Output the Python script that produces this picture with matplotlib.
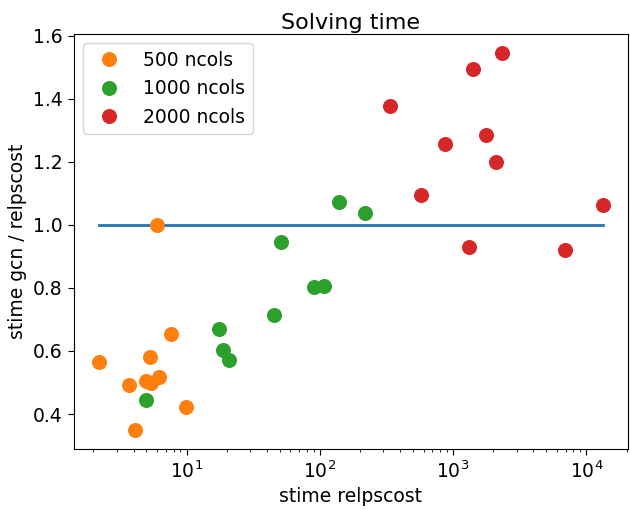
import matplotlib
matplotlib.use("Agg")
from matplotlib import pyplot as plt

# stime relpscost vs stime gcn / relpscost, per problem size
x500 = [2.2, 7.7, 5.3, 3.7, 5.0, 5.4, 6.2, 9.9, 4.1, 6.0]
y500 = [0.565, 0.654, 0.580, 0.492, 0.505, 0.499, 0.518, 0.421, 0.349, 1.000]

x1000 = [5.0, 17.5, 18.8, 20.9, 140, 220, 51, 90, 108, 45]
y1000 = [0.443, 0.670, 0.604, 0.570, 1.073, 1.036, 0.946, 0.803, 0.807, 0.713]

x2000 = [2340, 1420, 336, 1775, 870, 2090, 573, 13300, 1325, 6930]
y2000 = [1.545, 1.494, 1.376, 1.286, 1.257, 1.198, 1.093, 1.064, 0.930, 0.920]

fig = plt.figure(figsize=(6.3, 5.09), dpi=100)
ax = fig.add_axes([0.117, 0.118, 0.880, 0.815])

all_x = x500 + x1000 + x2000
ax.plot([min(all_x), max(all_x)], [1, 1], color="C0", lw=2)

ax.plot(x500, y500, "o", color="C1", ms=9.8, label="500 ncols")
ax.plot(x1000, y1000, "o", color="C2", ms=9.8, label="1000 ncols")
ax.plot(x2000, y2000, "o", color="C3", ms=9.8, label="2000 ncols")

ax.set_xscale("log")
ax.set_yticks([0.4, 0.6, 0.8, 1.0, 1.2, 1.4, 1.6])
ax.tick_params(labelsize=13.5, length=4.5)

ax.set_xlabel("stime relpscost", fontsize=13.5)
ax.set_ylabel("stime gcn / relpscost", fontsize=13.5)
ax.set_title("Solving time", fontsize=16, pad=4)
ax.legend(loc="upper left", fontsize=13.5, numpoints=1)

fig.savefig("out.png", dpi=100)
